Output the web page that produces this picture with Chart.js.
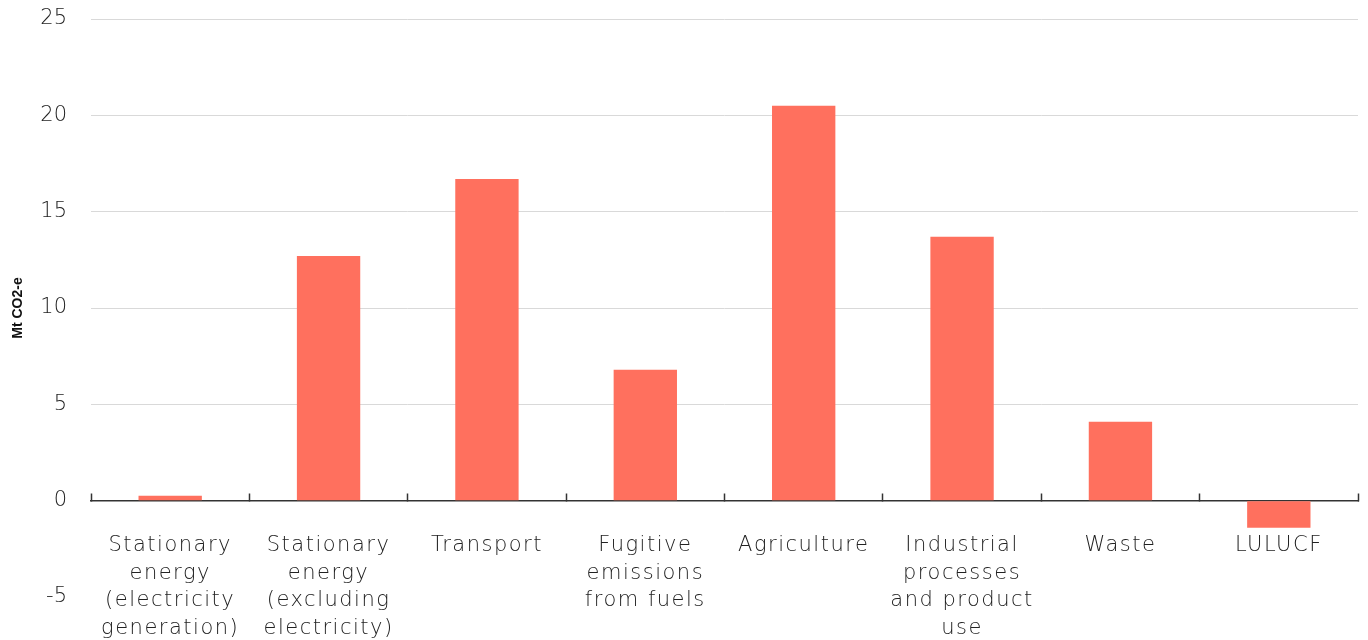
<!DOCTYPE html>
<html lang="en">
<head>
    <meta charset="utf-8" />
    <title>Emissions by sector</title>
    <script src="https://cdnjs.cloudflare.com/ajax/libs/Chart.js/4.4.0/chart.umd.js"></script>
    <style>
        html, body { margin: 0; padding: 0; background: #fff; }
        #wrap { width: 1368px; height: 640px; }
    </style>
</head>
<body>
    <div id="wrap"><canvas id="chart"></canvas></div>
    <script>
        const sectors = [
            ['Stationary', 'energy', '(electricity', 'generation)'],
            ['Stationary', 'energy', '(excluding', 'electricity)'],
            'Transport',
            ['Fugitive', 'emissions', 'from fuels'],
            'Agriculture',
            ['Industrial', 'processes', 'and product', 'use'],
            'Waste',
            'LULUCF'
        ];
        const emissions = [0.25, 12.7, 16.7, 6.8, 20.5, 13.7, 4.1, -1.4];
        const yTicks = [-5, 0, 5, 10, 15, 20, 25];

        const font = "'DejaVu Sans', sans-serif";

        // wider tracking for the category labels only (they are drawn after the bars, z: 1)
        const spacing = {
            id: 'spacing',
            beforeDraw: chart => { chart.ctx.letterSpacing = '0px'; },
            afterDatasetsDraw: chart => { chart.ctx.letterSpacing = '1.5px'; },
            afterDraw: chart => { chart.ctx.letterSpacing = '0px'; }
        };

        const ctx = document.getElementById('chart').getContext('2d');
        new Chart(ctx, {
            type: 'bar',
            data: {
                labels: sectors,
                datasets: [{
                    label: 'Mt CO2-e',
                    data: emissions,
                    backgroundColor: '#ff705e',
                    borderWidth: 0,
                    barPercentage: 0.4,
                    categoryPercentage: 1
                }]
            },
            options: {
                responsive: true,
                maintainAspectRatio: false,
                animation: false,
                layout: { padding: { top: 19, right: 10, bottom: 43, left: 0 } },
                plugins: {
                    legend: { display: false },
                    tooltip: { enabled: false }
                },
                scales: {
                    x: {
                        position: { y: 0 },
                        grid: {
                            drawOnChartArea: false,
                            drawTicks: true,
                            tickLength: -8,
                            tickWidth: 1.5,
                            tickColor: '#333'
                        },
                        border: { color: '#333', width: 1.5 },
                        ticks: {
                            z: 1,
                            padding: 39,
                            color: '#222',
                            maxRotation: 0,
                            autoSkip: false,
                            font: { family: font, size: 21, weight: 300, lineHeight: 1.32 }
                        }
                    },
                    y: {
                        min: -5,
                        max: 25,
                        afterBuildTicks: scale => {
                            scale.ticks = yTicks.map(v => ({ value: v }));
                        },
                        afterFit: scale => {
                            scale.width = 91;
                            scale.paddingTop = 0;
                            scale.paddingBottom = 0;
                        },
                        border: { display: false },
                        grid: {
                            drawTicks: false,
                            color: c => (c.tick && c.tick.value === -5) ? 'rgba(0,0,0,0)' : '#d9d9d9',
                            lineWidth: 1
                        },
                        ticks: {
                            padding: 24,
                            color: '#222',
                            font: { family: font, size: 21, weight: 300 }
                        },
                        title: {
                            display: true,
                            text: 'Mt CO2-e',
                            color: '#111',
                            padding: { top: 10, bottom: 6 },
                            font: { family: "'Liberation Sans', Arial, sans-serif", size: 14, weight: 'bold' }
                        }
                    }
                }
            },
            plugins: [spacing]
        });
    </script>
</body>
</html>
